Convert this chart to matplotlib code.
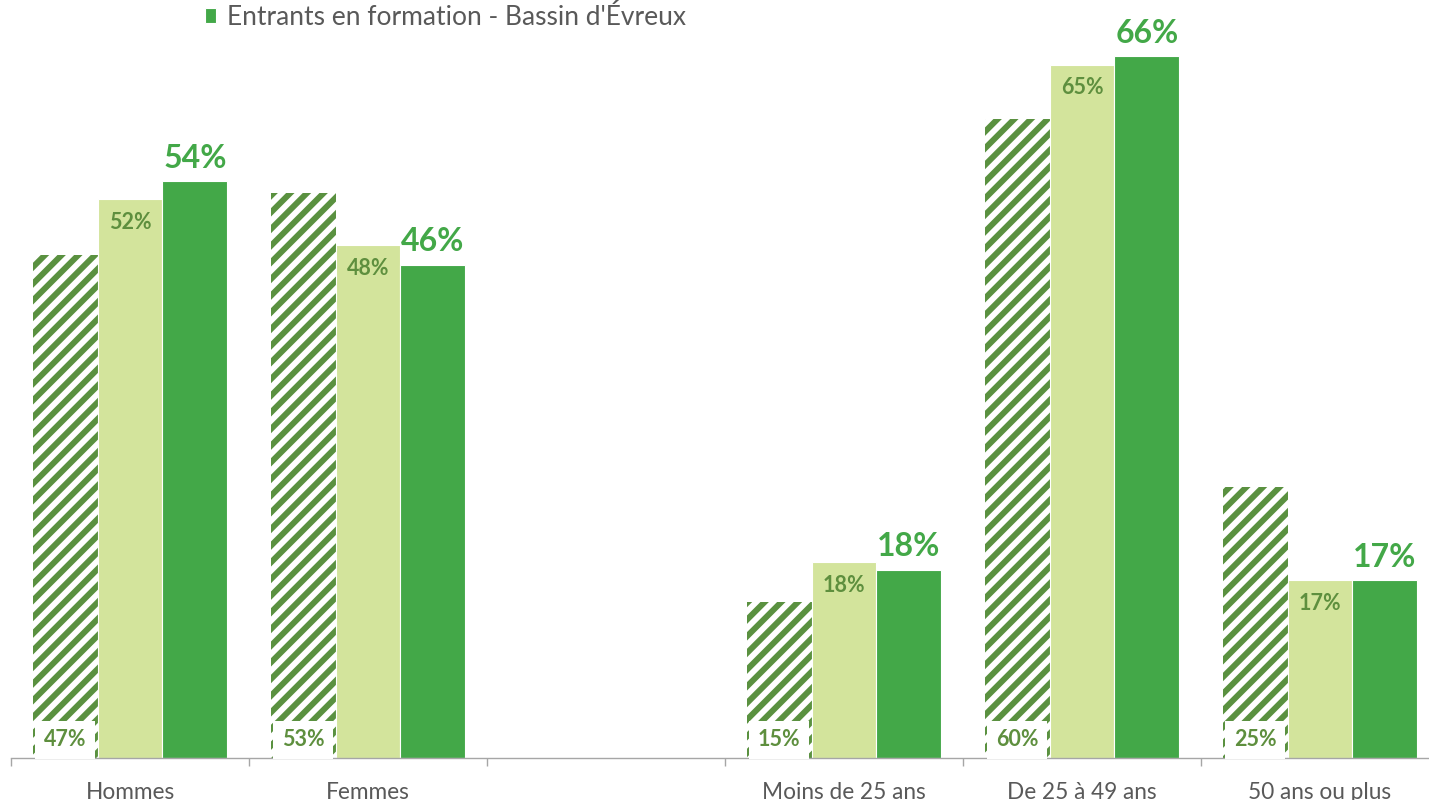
import matplotlib
matplotlib.use("Agg")
import matplotlib.pyplot as plt
import numpy as np
from matplotlib.ticker import FixedLocator, NullFormatter

plt.rcParams["font.family"] = ["Lato", "DejaVu Sans"]
plt.rcParams["hatch.linewidth"] = 4.3

# --- Data (percent) ---
categories = ["Hommes", "Femmes", "", "Moins de 25 ans", "De 25 à 49 ans", "50 ans ou plus"]
hatched_vals = [47.0, 52.8, np.nan, 14.6, 59.7, 25.3]
light_vals = [52.2, 47.9, np.nan, 18.3, 64.8, 16.6]
dark_vals = [53.9, 46.1, np.nan, 17.6, 65.6, 16.6]
legend_label = "Entrants en formation - Bassin d'Évreux"

HATCH_GREEN = "#5A9140"
LIGHT_GREEN = "#D3E49C"
DARK_GREEN = "#43A848"
LABEL_GREEN = "#5E8F3E"
GREY_TEXT = "#595959"

fig = plt.figure(figsize=(14.29, 8.0), dpi=100)
ax = fig.add_axes([11 / 1429, 42 / 800, 1428 / 1429, 758 / 800])

x = np.arange(len(categories))
w = 0.273
mask = ~np.isnan(np.array(dark_vals))
xs = x[mask]
hv = np.array(hatched_vals)[mask]
lv = np.array(light_vals)[mask]
dv = np.array(dark_vals)[mask]

ax.bar(xs - w, hv, width=w, color="white", edgecolor=HATCH_GREEN, linewidth=0,
       hatch="//", zorder=2)
ax.bar(xs, lv, width=w, color=LIGHT_GREEN, edgecolor="white", linewidth=0.8, zorder=2)
dark = ax.bar(xs + w, dv, width=w, color=DARK_GREEN, edgecolor="white", linewidth=0.8,
              zorder=2, label=legend_label)

for xi, h, l, d in zip(xs, hv, lv, dv):
    ax.annotate(f"{d:.0f}%", (xi + w, d), xytext=(0, 6), textcoords="offset points",
                ha="center", va="bottom", fontsize=23, fontweight="bold",
                color=DARK_GREEN, zorder=4)
    ax.annotate(f"{l:.0f}%", (xi, l), xytext=(0, -16.5), textcoords="offset points",
                ha="center", va="center", fontsize=15.5, fontweight="bold",
                color=LABEL_GREEN, zorder=4)
    ax.annotate(f"{h:.0f}%", (xi - w, 0), xytext=(0, 13), textcoords="offset points",
                ha="center", va="center", fontsize=15.5, fontweight="bold",
                color=LABEL_GREEN, zorder=4,
                bbox=dict(boxstyle="square,pad=0.4", facecolor="white", edgecolor="none"))

ax.set_xlim(-0.5, len(categories) - 0.5)
ax.set_ylim(0, 758 / 10.7)

ax.set_xticks(x)
ax.set_xticklabels(categories, fontsize=16.3, color=GREY_TEXT)
ax.tick_params(axis="x", which="major", length=0, pad=17)
ax.xaxis.set_minor_locator(FixedLocator(np.arange(-0.5, len(categories), 1.0)))
ax.xaxis.set_minor_formatter(NullFormatter())
ax.tick_params(axis="x", which="minor", length=6, width=1, color="#A6A6A6")
ax.set_yticks([])
for side in ("top", "right", "left"):
    ax.spines[side].set_visible(False)
ax.spines["bottom"].set_color("#A6A6A6")
ax.spines["bottom"].set_linewidth(1)
ax.patch.set_alpha(0)

fig.legend(handles=[dark], labels=[legend_label], loc="upper left",
           bbox_to_anchor=(194 / 1429, 1.007), frameon=False, fontsize=19,
           labelcolor=GREY_TEXT, handlelength=0.45, handleheight=0.45,
           handletextpad=0.4, borderaxespad=0)

fig.savefig("out.png", dpi=100)
